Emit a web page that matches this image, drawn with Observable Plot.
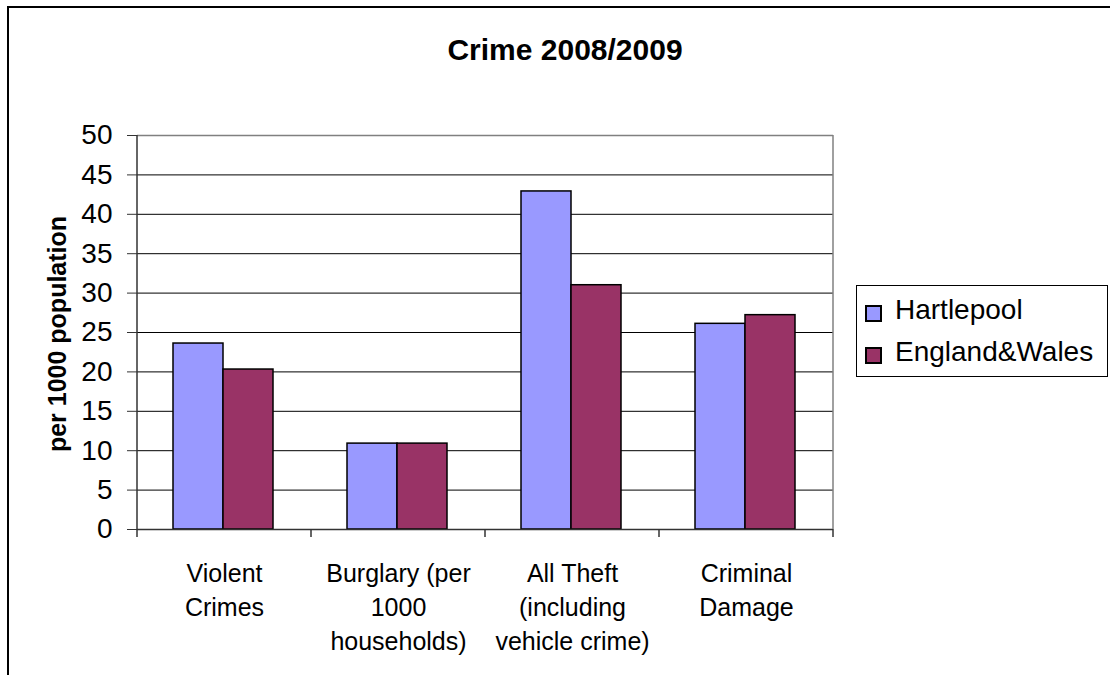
<!DOCTYPE html>
<html>
<head>
<meta charset="utf-8">
<script src="https://cdn.jsdelivr.net/npm/d3@7"></script>
<script src="https://cdn.jsdelivr.net/npm/@observablehq/plot@0.6"></script>
<style>
  html { margin: 0; padding: 0; overflow: hidden; background: #fff; }
  body { margin: 0; padding: 0; width: 1110px; height: 675px; position: relative; overflow: hidden; font-family: "Liberation Sans", Arial, sans-serif; color: #000; background: #fff; }
  #border { position: absolute; left: 7px; top: 6px; width: 1150px; height: 720px; border: 2px solid #000; box-sizing: border-box; }
  #title { position: absolute; left: 0; width: 1130px; top: 35px; text-align: center; font-size: 30px; line-height: 30px; font-weight: bold; }
  #ylabel { position: absolute; left: 57px; top: 334px; transform: translate(-50%, -50%) rotate(-90deg); font-size: 25px; font-weight: bold; white-space: nowrap; line-height: 25px; }
  #chart { position: absolute; left: 0; top: 0; }
  #legend { position: absolute; left: 856px; top: 285px; width: 252px; height: 92px; border: 1px solid #000; box-sizing: border-box; background: #fff; }
  .sw { position: absolute; width: 17px; height: 17px; border: 2px solid #000; box-sizing: border-box; }
  .lt { position: absolute; font-size: 28px; line-height: 28px; white-space: nowrap; }
</style>
</head>
<body>
<div id="border"></div>
<div id="title"></div>
<div id="chart"></div>
<div id="ylabel"></div>
<div id="legend"></div>
<script>
const chartTitle = "Crime 2008/2009";
const yLabel = "per 1000 population";
const categories = ["Violent Crimes", "Burglary (per 1000 households)", "All Theft (including vehicle crime)", "Criminal Damage"];
const categoryLabels = ["Violent\nCrimes", "Burglary (per\n1000\nhouseholds)", "All Theft\n(including\nvehicle crime)", "Criminal\nDamage"];
const series = ["Hartlepool", "England&Wales"];
const hartlepool = [23.6, 10.9, 42.9, 26.1];
const englandWales = [20.3, 10.9, 31.0, 27.2];
const yTicks = [0, 5, 10, 15, 20, 25, 30, 35, 40, 45, 50];
const colors = ["#9999FF", "#993366"];

const values = [hartlepool, englandWales];
const data = [];
categories.forEach((c, i) => series.forEach((s, j) => data.push({category: c, series: s, value: values[j][i]})));

document.getElementById("title").textContent = chartTitle;
document.getElementById("ylabel").textContent = yLabel;

const chart = Plot.plot({
  width: 1110,
  height: 675,
  marginLeft: 136,
  marginRight: 277,
  marginTop: 135,
  marginBottom: 146,
  style: {fontFamily: "'Liberation Sans', Arial, sans-serif", background: "transparent", color: "#000"},
  fx: {domain: categories, padding: 0, axis: null},
  x: {domain: series, paddingInner: 0, paddingOuter: 0.74, align: 0.48, axis: null},
  y: {domain: [0, 50], axis: null},
  color: {domain: series, range: colors},
  marks: [
    Plot.ruleY(yTicks.filter(v => v > 0 && v < 50), {stroke: "#000", strokeWidth: 1}),
    Plot.ruleY([50], {stroke: "#808080", strokeWidth: 1.5}),
    Plot.barY(data, {fx: "category", x: "series", y: "value", fill: "series", stroke: "#000", strokeWidth: 1.5}),
    Plot.ruleY([0], {stroke: "#333", strokeWidth: 1.5}),
    Plot.axisY({ticks: yTicks, tickSize: 10, tickPadding: 15, fontSize: 28, label: null, stroke: "#333"}),
    Plot.axisFx({anchor: "bottom", tickSize: 0, tickPadding: 28, fontSize: 25, lineHeight: 1.36, label: null,
      tickFormat: d => categoryLabels[categories.indexOf(d)]})
  ]
});
document.getElementById("chart").appendChild(chart);

// axis lines and category boundary ticks from the library's scales
const fx = chart.scale("fx");
const ys = chart.scale("y");
const svg = d3.select(chart);
const starts = categories.map(c => fx.apply(c));
const edges = starts.concat([starts[starts.length - 1] + fx.bandwidth]);
const y0 = ys.apply(0), yTop = ys.apply(50);
const g = svg.append("g");
g.selectAll("line.bt").data(edges).join("line")
  .attr("x1", d => d).attr("x2", d => d)
  .attr("y1", y0).attr("y2", y0 + 8)
  .attr("stroke", "#333").attr("stroke-width", 1.5);
g.append("line").attr("x1", edges[0]).attr("x2", edges[0]).attr("y1", yTop).attr("y2", y0)
  .attr("stroke", "#333").attr("stroke-width", 1.5);
g.append("line").attr("x1", edges[edges.length - 1]).attr("x2", edges[edges.length - 1]).attr("y1", yTop).attr("y2", y0)
  .attr("stroke", "#808080").attr("stroke-width", 1.5);

// legend
const legend = document.getElementById("legend");
series.forEach((s, i) => {
  const sw = document.createElement("div");
  sw.className = "sw";
  sw.style.left = "8px";
  sw.style.top = (19 + i * 42) + "px";
  sw.style.background = colors[i];
  legend.appendChild(sw);
  const t = document.createElement("div");
  t.className = "lt";
  t.style.left = "38px";
  t.style.top = (10 + i * 42) + "px";
  t.textContent = s;
  legend.appendChild(t);
});
</script>
</body>
</html>
